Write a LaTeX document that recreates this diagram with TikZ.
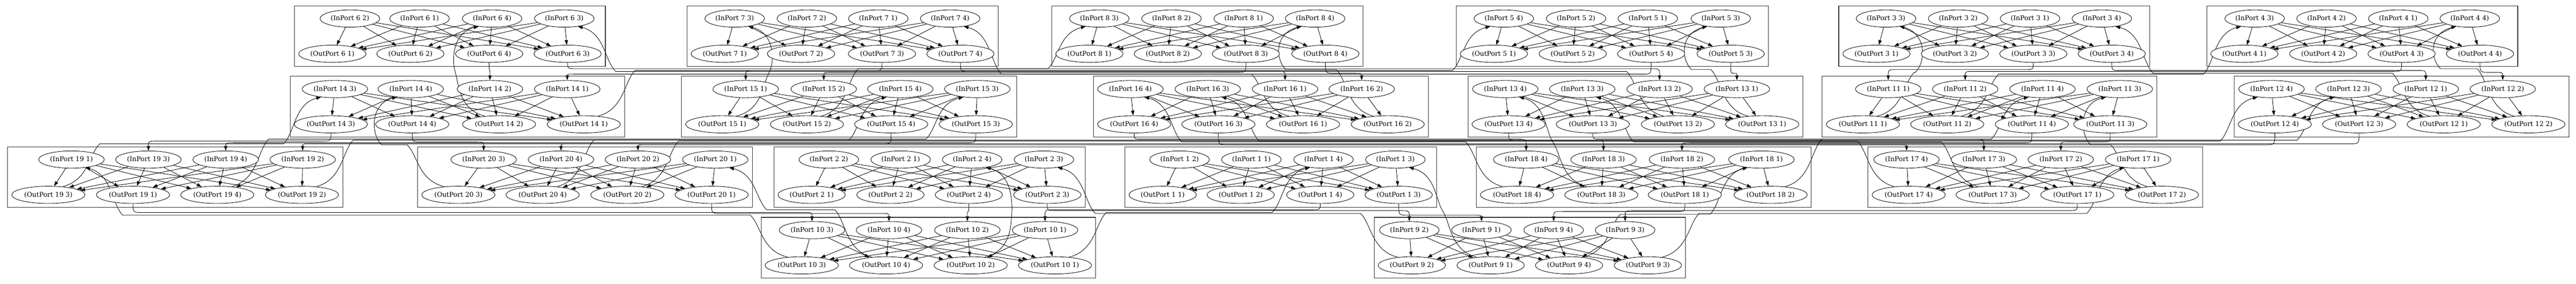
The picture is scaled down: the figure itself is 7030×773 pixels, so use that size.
\documentclass[tikz,border=0pt]{standalone}
\usepackage{fontspec}
\setmainfont{DejaVu Serif}
\usetikzlibrary{shapes.geometric,fit,arrows.meta}
\pgfdeclarelayer{edges}
\pgfsetlayers{edges,main}

\tikzset{
  port/.style={ellipse, draw, fill=white, line width=1.2pt, inner xsep=5pt, inner ysep=0pt,
    minimum height=47pt, font=\fontsize{18}{21}\selectfont},
  cluster/.style={draw=black!80, line width=1.5pt, inner sep=10.5pt},
  link/.style={line width=1.2pt, -{Triangle[length=13pt,width=9pt]}},
}

% 一个路由器: 编号, 上边界, 输入端口, 输出端口
\newcommand{\router}[4]{%
  \expandafter\xdef\csname top-#1\endcsname{#2}
  % 输入端口
  \foreach \p/\x in {#3}{
    \node[port] (in-#1-\p) at (\x,-#2-34.5) {(InPort #1 \p)};
    \expandafter\xdef\csname xi-#1-\p\endcsname{\x}
  }
  % 输出端口
  \foreach \p/\x in {#4}{
    \node[port] (out-#1-\p) at (\x,-#2-130.5) {(OutPort #1 \p)};
    \expandafter\xdef\csname xo-#1-\p\endcsname{\x}
  }
  % 外框
  \node[cluster, fit=(in-#1-1) (in-#1-2) (in-#1-3) (in-#1-4)
    (out-#1-1) (out-#1-2) (out-#1-3) (out-#1-4)] (box-#1) {};
  % 内部连线
  \begin{pgfonlayer}{edges}
    \foreach \a in {1,...,4}
      \foreach \b in {1,...,4}
        \draw[link] (in-#1-\a) -- (out-#1-\b);
  \end{pgfonlayer}
}

\begin{document}
\begin{tikzpicture}[x=1pt,y=1pt]
  \useasboundingbox (0,0) rectangle (7030,-773);

  % 第一行
  \router{6}{16}{2/955,1/1145,4/1343,3/1540}{1/907,2/1120,4/1335,3/1549}
  \router{7}{16}{3/2005,2/2202,1/2397,4/2593}{1/1978,2/2186,3/2407,4/2621}
  \router{8}{16}{3/3000,2/3197,1/3394,4/3589}{1/2973,2/3187,3/3400,4/3617}
  \router{5}{16}{4/4104,2/4301,1/4497,3/4696}{1/4077,2/4292,4/4506,3/4723}
  \router{3}{16}{3/5147,2/5344,1/5540,4/5736}{1/5121,2/5335,3/5549,4/5763}
  \router{4}{16}{3/6153,2/6349,1/6545,4/6740}{1/6125,2/6340,3/6554,4/6768}
  % 第二行
  \router{14}{208}{3/914,4/1121,2/1337,1/1548}{3/903,4/1125,2/1362,1/1593}
  \router{15}{208}{1/2035,2/2248,4/2457,3/2667}{1/1971,2/2202,4/2432,3/2663}
  \router{16}{208}{4/3085,3/3296,1/3507,2/3716}{4/3095,3/3325,1/3556,2/3787}
  \router{13}{208}{4/4108,3/4318,2/4529,1/4740}{4/4117,3/4347,2/4579,1/4809}
  \router{11}{208}{1/5153,2/5363,4/5574,3/5785}{1/5084,2/5314,4/5545,3/5759}
  \router{12}{208}{4/6199,3/6409,1/6620,2/6830}{4/6208,3/6438,1/6669,2/6900}
  % 第三行
  \router{19}{400}{1/195,3/405,4/616,2/826}{3/132,1/363,4/593,2/824}
  \router{20}{400}{3/1320,4/1531,2/1741,1/1952}{3/1251,4/1481,2/1712,1/1942}
  \router{2}{400}{2/2262,1/2458,4/2653,3/2849}{1/2215,2/2430,4/2644,3/2858}
  \router{1}{400}{2/3219,1/3415,4/3612,3/3808}{1/3173,2/3386,4/3603,3/3817}
  \router{18}{400}{4/4165,3/4376,2/4590,1/4807}{4/4140,3/4370,1/4598,2/4832}
  \router{17}{400}{4/5203,3/5414,2/5624,1/5835}{4/5209,3/5438,1/5669,2/5900}
  % 第四行
  \router{10}{592}{3/2216,4/2426,2/2640,1/2852}{3/2188,4/2418,2/2649,1/2879}
  \router{9}{592}{2/3846,1/4043,4/4240,3/4435}{2/3853,1/4068,4/4282,3/4497}

  % 路由器之间的连线: 上方路由器/端口/下方路由器/端口/走廊
  \begin{pgfonlayer}{edges}
  \foreach \a/\p/\b/\q/\cor [count=\k] in {
      3/3/11/1/194.5, 3/4/12/1/194.5, 4/3/11/2/194.5, 4/4/12/2/194.5,
      5/3/13/1/194.5, 5/4/14/1/194.5, 6/3/13/2/194.5, 6/4/14/2/194.5,
      7/3/15/1/194.5, 7/4/16/1/194.5, 8/3/15/2/194.5, 8/4/16/2/194.5,
      1/3/9/1/578.5, 1/4/10/1/578.5, 2/3/9/2/578.5, 2/4/10/2/578.5,
      11/3/17/2/386.5, 11/4/18/2/386.5, 12/3/19/2/386.5, 12/4/20/2/386.5,
      13/3/17/3/386.5, 13/4/18/3/386.5, 14/3/19/3/386.5, 14/4/20/3/386.5,
      15/3/19/4/386.5, 15/4/20/4/386.5, 16/3/17/4/386.5, 16/4/18/4/386.5,
      17/1/9/3/578.5, 18/1/9/4/578.5, 19/1/10/3/578.5, 20/1/10/4/578.5}{
    % 向下: 输出端口 -> 下一行的输入端口
    \pgfmathsetmacro\cy{-(\cor+2.5*mod(\k,7)-7.5)}
    \edef\xs{\csname xo-\a-\p\endcsname}
    \edef\xt{\csname xi-\b-\q\endcsname}
    \pgfmathsetmacro\hh{(\xt<\xs ? -1 : 1)*min(25,abs(\xt-\xs)/2)}
    \draw[link] (out-\a-\p.south) .. controls (\xs,\cy) .. ({\xs+(\hh)},\cy)
      -- ({\xt-(\hh)},\cy) .. controls (\xt,\cy) .. (in-\b-\q.north);
    % 向上: 下方输出端口 -> 上一行的输入端口
    \pgfmathsetmacro\cy{-(\cor+2.5*mod(\k+3,7)-7.5)}
    \edef\xs{\csname xo-\b-\q\endcsname}
    \edef\xt{\csname xi-\a-\p\endcsname}
    \edef\ys{\csname top-\b\endcsname}
    \edef\yt{\csname top-\a\endcsname}
    \pgfmathsetmacro\sg{\xt<\xs ? -1 : 1}
    \pgfmathsetmacro\tg{abs(\xt-\xs)<250 ? \sg : 0-(\sg)}
    \pgfmathsetmacro\ga{\xs+110*(\sg)}
    \pgfmathsetmacro\gb{\xt+110*(\tg)}
    \pgfmathsetmacro\hh{(\gb<\ga ? -1 : 1)*min(30,abs(\gb-\ga)/2)}
    \pgfmathtruncatemacro\aa{90-60*(\sg)}
    \pgfmathtruncatemacro\ab{-90+60*(\tg)}
    \draw[link] (out-\b-\q.\aa) .. controls (\ga,-\ys-90.5) and (\ga,\cy-30)
      .. ({\ga+(\hh)},\cy) -- ({\gb-(\hh)},\cy)
      .. controls (\gb,\cy+30) and (\gb,-\yt-74.5) .. (in-\a-\p.\ab);
  }
  \end{pgfonlayer}
\end{tikzpicture}
\end{document}
